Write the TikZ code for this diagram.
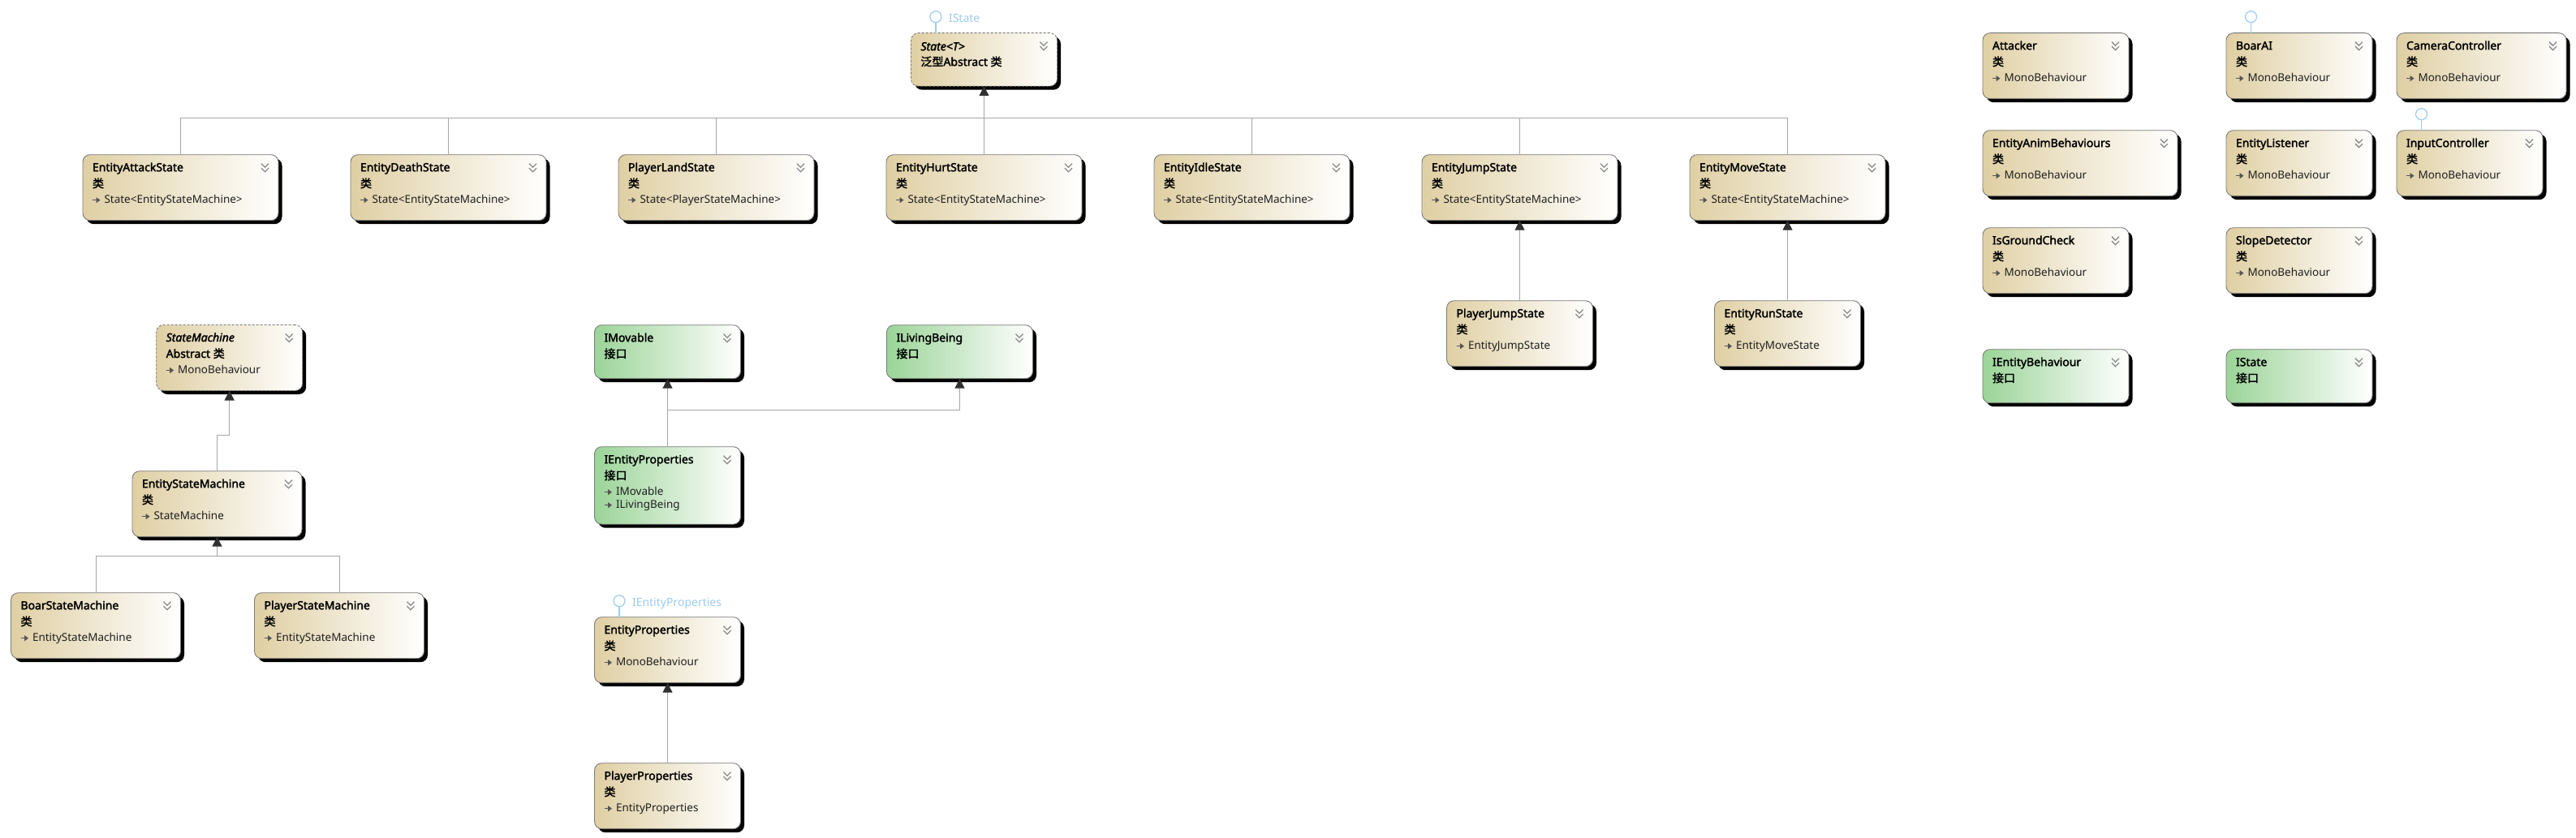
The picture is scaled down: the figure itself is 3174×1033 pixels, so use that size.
\documentclass[tikz,border=0pt]{standalone}
\usepackage{fontspec}
\setmainfont{Noto Sans}[AutoFakeBold=2.2]
\newfontfamily\cjk{Noto Sans CJK SC}[AutoFakeBold=2]
\usetikzlibrary{arrows.meta,shadows,calc}
\definecolor{clsL}{HTML}{DFCFA3}
\definecolor{ifL}{HTML}{9BD498}
\definecolor{bord}{HTML}{7A7A7A}
\definecolor{conncol}{HTML}{A6A6A6}
\definecolor{tipcol}{HTML}{303030}
\definecolor{lolcol}{HTML}{9CCBF0}
\definecolor{chevcol}{HTML}{8A8A8A}
\definecolor{icocol}{HTML}{555555}
\tikzset{
  box/.style={draw=bord, line width=0.9pt, rounded corners=9pt, inner sep=0pt, outer sep=0pt,
    anchor=north west, general shadow={shadow xshift=4.5pt, shadow yshift=-4.5pt, fill=black}},
  clsbox/.style={box, left color=clsL, right color=white},
  absbox/.style={clsbox, dash pattern=on 3pt off 2pt},
  ifbox/.style={box, left color=ifL, right color=white},
  chevst/.style={draw=chevcol, line width=1.3pt},
  ttl/.style={anchor=base west, inner sep=0pt, outer sep=0pt, font=\fontsize{14}{16}\selectfont\bfseries},
  ttli/.style={ttl, font=\fontsize{14}{16}\selectfont\itshape\addfontfeature{FakeBold=2.2}},
  kind/.style={anchor=base west, inner sep=0pt, outer sep=0pt, font=\fontsize{14}{16}\selectfont\bfseries\cjk},
  kindl/.style={anchor=base west, inner sep=0pt, outer sep=0pt, font=\fontsize{14}{16}\selectfont\bfseries},
  btxt/.style={anchor=base west, inner sep=0pt, outer sep=0pt, text=black!88, font=\fontsize{13.5}{15}\selectfont},
  inhicon/.style={draw=icocol, line width=1.2pt, -{Triangle[length=5pt,width=7pt]}},
  conn/.style={draw=conncol, line width=1pt},
  inh/.style={conn, -{Triangle[length=12pt,width=12pt,color=tipcol]}},
  lolst/.style={draw=lolcol, line width=1.2pt},
  loltxt/.style={anchor=base west, inner sep=0pt, outer sep=0pt, text=lolcol, font=\fontsize{14}{16}\selectfont}
}
% box: style, name, x, y, width, height
\newcommand\ubox[6]{%
  \node[#1, minimum width=#5pt, minimum height=#6pt] (#2) at (#3,#4) {};
  \draw[chevst] ([shift={(-21,11)}]#2.north east) -- ++(4.5,4.5) -- ++(4.5,-4.5)
                ([shift={(-21,16.5)}]#2.north east) -- ++(4.5,4.5) -- ++(4.5,-4.5);
}
% text line: style, node, y offset, text
\newcommand\tline[4]{\node[#1] (#2-t#3) at ([shift={(12,#3+0.5)}]#2.north west) {#4};}
% base line: node, y offset, text
\newcommand\bline[3]{%
  \draw[inhicon] ([shift={(12,#2-4)}]#1.north west) -- ++(9.5,0);
  \node[btxt] (#1-b#2) at ([shift={(26.5,#2)}]#1.north west) {#3};}
% class: name, x, y, width, title, base
\newcommand\cls[6]{%
  \ubox{clsbox}{#1}{#2}{#3}{#4}{81}
  \tline{ttl}{#1}{20}{#5}
  \tline{kind}{#1}{40}{类}
  \bline{#1}{60}{#6}}
% interface: name, x, y, title
\newcommand\ifc[4]{%
  \ubox{ifbox}{#1}{#2}{#3}{180}{66}
  \tline{ttl}{#1}{20}{#4}
  \tline{kind}{#1}{40}{接口}}
% lollipop: node, label
\newcommand\lolli[2]{%
  \draw[lolst] ([xshift=30.5pt]#1.north west) -- ++(0,-13) coordinate (#1-lc);
  \draw[lolst, fill=white] ([yshift=7pt]#1-lc) circle[radius=7pt];
  \node[loltxt] (#1-lt) at ([xshift=16pt,yshift=0.5pt]#1-lc) {#2};}

\begin{document}
\begin{tikzpicture}[x=1pt,y=-1pt]
\useasboundingbox (0,0) rectangle (3174,1033);

% generic State<T>
\ubox{absbox}{st}{1122.5}{40.7}{180}{65.5}
\tline{ttli}{st}{21}{State<T>}
\tline{kindl}{st}{40}{{\cjk 泛型}Abstract {\cjk 类}}
\lolli{st}{IState}

% top row of states
\cls{eas}{102}{190.7}{241}{EntityAttackState}{State<EntityStateMachine>}
\cls{eds}{432}{190.7}{241}{EntityDeathState}{State<EntityStateMachine>}
\cls{pls}{762}{190.7}{241}{PlayerLandState}{State<PlayerStateMachine>}
\cls{ehs}{1092}{190.7}{241}{EntityHurtState}{State<EntityStateMachine>}
\cls{eis}{1422}{190.7}{241}{EntityIdleState}{State<EntityStateMachine>}
\cls{ejs}{1752}{190.7}{241}{EntityJumpState}{State<EntityStateMachine>}
\cls{ems}{2082}{190.7}{241}{EntityMoveState}{State<EntityStateMachine>}

\cls{pjs}{1782.5}{370.7}{180}{PlayerJumpState}{EntityJumpState}
\cls{ers}{2112.5}{370.7}{180}{EntityRunState}{EntityMoveState}

% state machines
\ubox{absbox}{sm}{192.7}{400.5}{180}{81}
\tline{ttli}{sm}{20}{StateMachine}
\tline{kindl}{sm}{40}{Abstract {\cjk 类}}
\bline{sm}{60}{MonoBehaviour}
\cls{esm}{163}{580.7}{209}{EntityStateMachine}{StateMachine}
\cls{bsm}{13.5}{730.7}{209}{BoarStateMachine}{EntityStateMachine}
\cls{psm}{313.5}{730.7}{209}{PlayerStateMachine}{EntityStateMachine}

% interfaces and properties
\ifc{imov}{732.5}{400.7}{IMovable}
\ifc{iliv}{1092.5}{400.7}{ILivingBeing}
\ubox{ifbox}{iep}{732.5}{550.7}{180}{95.5}
\tline{ttl}{iep}{20}{IEntityProperties}
\tline{kind}{iep}{40}{接口}
\bline{iep}{60}{IMovable}
\bline{iep}{76}{ILivingBeing}
\cls{ep}{732.5}{760.7}{180}{EntityProperties}{MonoBehaviour}
\lolli{ep}{IEntityProperties}
\cls{pp}{732.5}{940.7}{180}{PlayerProperties}{EntityProperties}

% right-hand group
\cls{att}{2443}{40.7}{180}{Attacker}{MonoBehaviour}
\cls{boar}{2743}{40.7}{180}{BoarAI}{MonoBehaviour}
\lolli{boar}{}
\cls{cam}{2953}{40.7}{209}{CameraController}{MonoBehaviour}
\cls{eab}{2443}{160.7}{240}{EntityAnimBehaviours}{MonoBehaviour}
\cls{el}{2743}{160.7}{180}{EntityListener}{MonoBehaviour}
\cls{inp}{2953}{160.7}{180}{InputController}{MonoBehaviour}
\lolli{inp}{}
\cls{igc}{2443}{280.7}{180}{IsGroundCheck}{MonoBehaviour}
\cls{sd}{2743}{280.7}{180}{SlopeDetector}{MonoBehaviour}
\ifc{ieb}{2443}{430.7}{IEntityBehaviour}
\ifc{ist}{2743}{430.7}{IState}

% connectors: states -> State<T>
\coordinate (bus) at (1212.5,145.7);
\draw[conn] (eas.north) |- (bus) -| (ems.north);
\draw[conn] (eds.north) -- (eds.north |- bus);
\draw[conn] (pls.north) -- (pls.north |- bus);
\draw[conn] (ehs.north) -- (bus);
\draw[conn] (eis.north) -- (eis.north |- bus);
\draw[conn] (ejs.north) -- (ejs.north |- bus);
\draw[inh] (bus) -- (st.south);
\draw[inh] (pjs.north) -- (ejs.south);
\draw[inh] (ers.north) -- (ems.south);

% state machines
\coordinate (smjog) at (0,536);
\draw[inh] (esm.north) -- (esm.north |- smjog) -| (sm.south);
\coordinate (esmbus) at (267.5,685.7);
\draw[conn] (bsm.north) |- (esmbus) -| (psm.north);
\draw[inh] (esmbus) -- (esm.south);

% interfaces
\coordinate (ifbus) at (822.5,505.7);
\draw[conn] (iep.north) -- (ifbus);
\draw[inh] (ifbus) -- (imov.south);
\draw[inh] (ifbus) -| (iliv.south);

% properties
\draw[inh] (pp.north) -- (ep.south);
\end{tikzpicture}
\end{document}
